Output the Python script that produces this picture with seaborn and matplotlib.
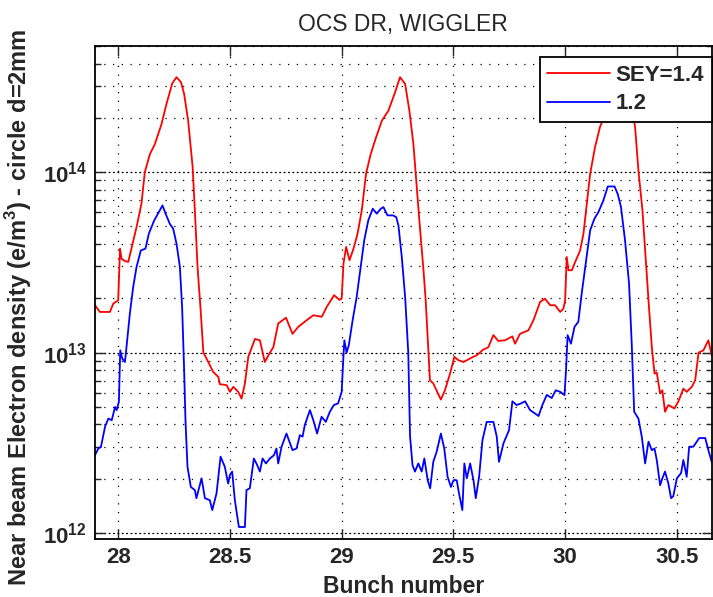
import matplotlib
matplotlib.use("Agg")
import matplotlib.pyplot as plt
import seaborn as sns
import pandas as pd
from matplotlib.ticker import LogLocator, NullFormatter, FixedLocator, FormatStrFormatter

# ==============================
# DATA (density in units of 1e12 e/m^3)
# ==============================
red_x = [27.896, 27.918, 27.963, 27.978, 28.000, 28.008, 28.015, 28.030, 28.045, 28.059,
         28.082, 28.104, 28.119, 28.142, 28.164, 28.194, 28.216, 28.242, 28.261, 28.281,
         28.295, 28.313, 28.333, 28.343, 28.355, 28.370, 28.381, 28.403, 28.425, 28.448,
         28.455, 28.485, 28.500, 28.515, 28.537, 28.552, 28.567, 28.582, 28.612, 28.634,
         28.656, 28.679, 28.694, 28.716, 28.751, 28.780, 28.806, 28.843, 28.873, 28.911,
         28.933, 28.966, 28.990, 29.000, 29.008, 29.020, 29.035, 29.053, 29.071, 29.090,
         29.109, 29.130, 29.154, 29.180, 29.209, 29.239, 29.261, 29.284, 29.303, 29.321,
         29.336, 29.350, 29.365, 29.376, 29.387, 29.395, 29.410, 29.444, 29.462, 29.485,
         29.504, 29.522, 29.545, 29.582, 29.604, 29.634, 29.656, 29.679, 29.701, 29.731,
         29.764, 29.776, 29.798, 29.836, 29.858, 29.888, 29.910, 29.933, 29.955, 29.978,
         29.992, 30.000, 30.007, 30.015, 30.030, 30.045, 30.067, 30.082, 30.097, 30.112,
         30.134, 30.156, 30.200, 30.235, 30.262, 30.285, 30.313, 30.328, 30.346, 30.361,
         30.373, 30.388, 30.400, 30.410, 30.425, 30.435, 30.447, 30.462, 30.477, 30.489,
         30.507, 30.529, 30.544, 30.567, 30.582, 30.597, 30.619, 30.641, 30.656]
red_y = [18.3, 16.8, 16.8, 18.7, 19.5, 37.7, 33.1, 32.2, 31.8, 37.7,
         49.6, 66.9, 100, 126, 143, 185, 239, 311, 336, 315,
         271, 193, 107, 61.4, 29.8, 16.4, 10.0, 8.87, 7.81, 7.33,
         6.68, 6.60, 6.06, 6.46, 6.06, 5.56, 6.74, 9.47, 11.9, 11.7,
         8.87, 10.0, 10.7, 14.5, 15.6, 12.7, 13.9, 15.1, 16.1, 15.8,
         17.9, 20.8, 19.6, 19.9, 31.1, 38.5, 32.5, 37.7, 45.6, 61.4,
         98, 126, 156, 193, 219, 277, 336, 308, 219, 143,
         82.6, 49.6, 29.8, 19.5, 10.7, 7.03, 6.74, 5.49, 6.18, 7.65,
         9.47, 9.08, 8.87, 9.38, 9.66, 10.4, 10.7, 12.5, 11.6, 11.7,
         12.3, 11.2, 12.7, 13.3, 15.1, 19.1, 19.9, 18.3, 18.3, 16.8,
         17.5, 19.5, 33.9, 28.6, 28.6, 31.8, 36.8, 45.6, 66.9, 98,
         138, 178, 240, 290, 330, 280, 178, 102, 61.4, 32.5,
         19.5, 10.7, 7.65, 7.75, 5.93, 6.18, 4.70, 5.12, 5.00, 4.90,
         5.37, 6.31, 6.06, 6.46, 7.03, 10.0, 10.3, 11.7, 9.66]

blue_x = [27.896, 27.911, 27.923, 27.941, 27.956, 27.971, 27.986, 27.993, 28.003, 28.009,
          28.018, 28.030, 28.037, 28.052, 28.067, 28.082, 28.101, 28.122, 28.137, 28.161,
          28.182, 28.198, 28.212, 28.231, 28.246, 28.261, 28.276, 28.286, 28.295, 28.301,
          28.310, 28.325, 28.343, 28.350, 28.373, 28.388, 28.410, 28.421, 28.440, 28.458,
          28.477, 28.492, 28.500, 28.510, 28.522, 28.540, 28.567, 28.574, 28.589, 28.607,
          28.622, 28.634, 28.646, 28.661, 28.679, 28.697, 28.708, 28.716, 28.731, 28.753,
          28.780, 28.798, 28.813, 28.825, 28.835, 28.858, 28.873, 28.890, 28.910, 28.929,
          28.947, 28.965, 28.984, 29.000, 29.007, 29.012, 29.022, 29.032, 29.049, 29.067,
          29.085, 29.101, 29.119, 29.139, 29.157, 29.175, 29.187, 29.205, 29.229, 29.244,
          29.254, 29.269, 29.284, 29.298, 29.306, 29.317, 29.328, 29.343, 29.358, 29.370,
          29.385, 29.396, 29.410, 29.425, 29.444, 29.459, 29.474, 29.489, 29.500, 29.515,
          29.525, 29.540, 29.549, 29.560, 29.575, 29.590, 29.600, 29.615, 29.630, 29.649,
          29.679, 29.694, 29.704, 29.724, 29.749, 29.764, 29.783, 29.803, 29.821, 29.843,
          29.866, 29.881, 29.898, 29.918, 29.940, 29.958, 29.978, 29.997, 30.004, 30.011,
          30.026, 30.042, 30.059, 30.074, 30.092, 30.112, 30.131, 30.149, 30.171, 30.191,
          30.221, 30.235, 30.250, 30.268, 30.286, 30.298, 30.309, 30.328, 30.343, 30.358,
          30.373, 30.388, 30.400, 30.410, 30.425, 30.435, 30.447, 30.462, 30.474, 30.484,
          30.500, 30.519, 30.529, 30.544, 30.555, 30.574, 30.600, 30.627, 30.641, 30.656]
blue_y = [2.70, 2.94, 3.01, 3.88, 4.31, 4.22, 5.00, 4.80, 5.33, 10.3,
          9.27, 8.87, 10.7, 16.4, 23.1, 29.8, 36.8, 37.7, 45.6, 54.0,
          60.1, 65.4, 58.9, 51.7, 48.6, 40.1, 29.8, 17.9, 7.99, 4.22,
          2.33, 1.80, 1.73, 1.56, 2.01, 1.56, 1.52, 1.34, 1.66, 2.65,
          2.33, 1.88, 2.10, 2.19, 1.52, 1.08, 1.08, 1.73, 1.77, 2.59,
          2.38, 2.19, 2.59, 2.43, 2.59, 2.70, 2.94, 2.43, 3.01, 3.56,
          2.88, 2.94, 3.49, 3.42, 3.97, 4.80, 4.22, 3.56, 4.41, 4.13,
          4.70, 5.12, 5.23, 6.06, 9.08, 11.7, 10.0, 11.0, 15.1, 20.3,
          29.8, 41.9, 54.0, 62.7, 58.9, 62.7, 64.0, 57.6, 57.6, 56.4,
          50.7, 33.9, 20.3, 10.0, 3.43, 2.38, 2.19, 2.43, 2.19, 2.59,
          1.96, 1.77, 2.48, 2.82, 3.56, 2.94, 2.05, 1.80, 1.96, 1.96,
          1.66, 1.34, 2.43, 2.01, 2.43, 1.96, 1.56, 2.05, 3.27, 4.13,
          4.13, 3.42, 2.48, 3.14, 3.72, 5.37, 5.12, 5.23, 5.37, 4.80,
          4.59, 4.45, 5.12, 5.83, 5.60, 6.18, 6.06, 5.81, 7.99, 12.5,
          11.2, 13.9, 14.8, 21.2, 31.1, 47.6, 55.2, 60.1, 69.7, 83.3,
          83.3, 75.9, 64.0, 41.9, 24.1, 11.2, 4.70, 4.31, 3.42, 2.43,
          3.21, 2.88, 2.94, 2.54, 1.84, 2.01, 2.19, 1.88, 1.56, 1.60,
          2.01, 2.15, 2.54, 2.05, 3.01, 3.01, 3.36, 3.36, 2.88, 2.48]

labels = ["SEY=1.4", "1.2"]
x_ticks = [28, 28.5, 29, 29.5, 30, 30.5]

df = pd.concat([
    pd.DataFrame({"bunch": red_x, "density": [v * 1e12 for v in red_y], "SEY": labels[0]}),
    pd.DataFrame({"bunch": blue_x, "density": [v * 1e12 for v in blue_y], "SEY": labels[1]}),
], ignore_index=True)

# ==============================
# STYLE
# ==============================
sns.set_style("ticks")
plt.rcParams["font.family"] = ["Liberation Sans", "DejaVu Sans"]
plt.rcParams["font.weight"] = "bold"
plt.rcParams["axes.labelweight"] = "bold"
plt.rcParams["mathtext.fontset"] = "custom"
plt.rcParams["mathtext.rm"] = "Liberation Sans:bold"
plt.rcParams["mathtext.bf"] = "Liberation Sans:bold"
plt.rcParams["axes.linewidth"] = 1.3
plt.rcParams["axes.edgecolor"] = "black"
plt.rcParams["xtick.direction"] = "in"
plt.rcParams["ytick.direction"] = "in"
plt.rcParams["xtick.top"] = True
plt.rcParams["ytick.right"] = True

fig = plt.figure(figsize=(7.13, 5.97), dpi=100)
ax = fig.add_axes([0.1332, 0.0972, 0.8647, 0.8257])

sns.lineplot(data=df, x="bunch", y="density", hue="SEY",
             palette={"SEY=1.4": "#ff0000", "1.2": "#0000ff"},
             estimator=None, sort=False, linewidth=1.3, ax=ax)

ax.set_yscale("log")
ax.set_xlim(27.896, 30.655)
ax.set_ylim(9.27e11, 5e14)
ax.xaxis.set_major_locator(FixedLocator(x_ticks))
ax.xaxis.set_major_formatter(FormatStrFormatter("%g"))
ax.yaxis.set_major_locator(LogLocator(base=10))
ax.yaxis.set_minor_locator(LogLocator(base=10, subs=range(2, 10)))
ax.yaxis.set_minor_formatter(NullFormatter())

ax.grid(True, which="major", axis="x", color="black", linestyle=(0, (1, 6)), linewidth=0.9)
ax.grid(True, which="major", axis="y", color="black", linestyle=(0, (1.5, 2)), linewidth=0.9)
ax.grid(True, which="minor", axis="y", color="black", linestyle=(0, (1, 6)), linewidth=0.9)

ax.tick_params(which="major", length=7, width=1, labelsize=16, pad=6)
ax.tick_params(which="minor", length=4, width=1)

ax.set_title("OCS DR, WIGGLER", fontsize=16.5, fontweight="normal", pad=11)
ax.set_xlabel("Bunch number", fontsize=16.5, labelpad=5)
ax.set_ylabel("Near beam Electron density (e/m$^{3}$) - circle d=2mm", fontsize=17)
ax.yaxis.set_label_coords(-0.099, 0.47)

leg = ax.legend(loc="upper right", bbox_to_anchor=(1.0, 0.978), borderaxespad=0,
                fancybox=False, framealpha=1, edgecolor="black", fontsize=16,
                handlelength=2.8, handletextpad=0.25, labelspacing=0.35,
                borderpad=0.35)
leg.get_frame().set_linewidth(1.3)

fig.savefig("out.png", dpi=100)
